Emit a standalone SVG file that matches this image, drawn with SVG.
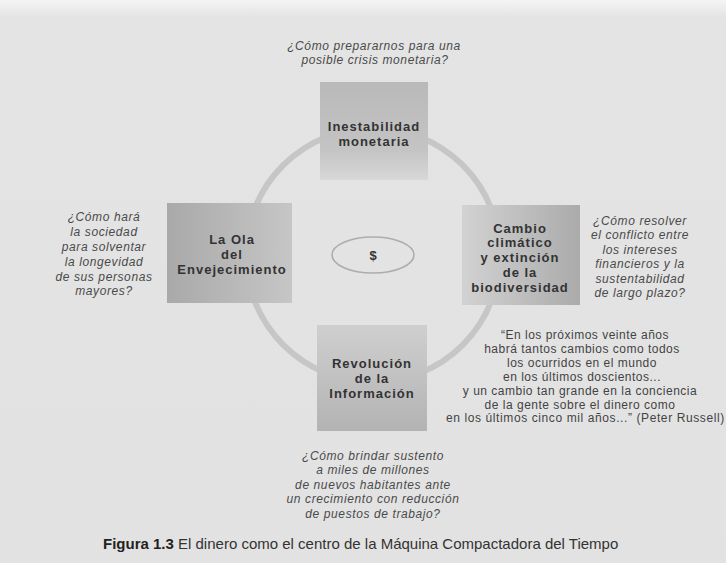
<svg xmlns="http://www.w3.org/2000/svg" width="726" height="563" viewBox="0 0 726 563">
  <defs>
    <linearGradient id="gPage" x1="0" y1="0" x2="0" y2="1">
      <stop offset="0" stop-color="#f4f4f4"/>
      <stop offset="0.03" stop-color="#e4e4e4"/>
      <stop offset="1" stop-color="#e2e2e2"/>
    </linearGradient>
    <linearGradient id="gTop" x1="0" y1="0" x2="0" y2="1">
      <stop offset="0" stop-color="#b9b9b9"/>
      <stop offset="0.7" stop-color="#c4c4c4"/>
      <stop offset="1" stop-color="#d8d8d8"/>
    </linearGradient>
    <linearGradient id="gLeft" x1="0" y1="0" x2="1" y2="0">
      <stop offset="0" stop-color="#a9a9a9"/>
      <stop offset="1" stop-color="#c6c6c6"/>
    </linearGradient>
    <linearGradient id="gRight" x1="0" y1="0" x2="1" y2="0">
      <stop offset="0" stop-color="#d2d2d2"/>
      <stop offset="1" stop-color="#ababab"/>
    </linearGradient>
    <linearGradient id="gBottom" x1="0" y1="0" x2="0" y2="1">
      <stop offset="0" stop-color="#cfcfcf"/>
      <stop offset="1" stop-color="#b3b3b3"/>
    </linearGradient>
    <style>
      .title { font-family: "Liberation Sans", Arial, sans-serif; font-weight: bold; font-size: 13px; letter-spacing: 1px; fill: #333333; text-anchor: middle; }
      .q { font-family: "Liberation Sans", Arial, sans-serif; font-style: italic; font-size: 12px; letter-spacing: 0.6px; fill: #4a4a4a; text-anchor: middle; }
      .quote { font-family: "Liberation Sans", Arial, sans-serif; font-size: 12px; letter-spacing: 0.5px; fill: #434343; text-anchor: middle; }
      .cap { font-family: "Liberation Sans", Arial, sans-serif; font-size: 15px; fill: #333333; }
      .ring { fill: none; stroke: #c6c6c6; stroke-width: 6; }
    </style>
  </defs>

  <rect x="0" y="0" width="726" height="563" fill="url(#gPage)"/>

  <g id="connectors">
    <circle class="ring" cx="373" cy="255" r="127"/>
  </g>

  <g id="node-top">
    <rect x="320" y="82" width="108" height="98" fill="url(#gTop)"/>
    <text class="title" x="374" y="130.5">Inestabilidad</text>
    <text class="title" x="374" y="145.5">monetaria</text>
  </g>

  <g id="node-left">
    <rect x="167" y="203" width="125" height="100" fill="url(#gLeft)"/>
    <text class="title" x="232" y="243.5">La Ola</text>
    <text class="title" x="232" y="258.5">del</text>
    <text class="title" x="232" y="273.5">Envejecimiento</text>
  </g>

  <g id="node-right">
    <rect x="462" y="205" width="118" height="100" fill="url(#gRight)"/>
    <text class="title" x="520" y="232.5">Cambio</text>
    <text class="title" x="520" y="247.4">climático</text>
    <text class="title" x="520" y="262.3">y extinción</text>
    <text class="title" x="520" y="277.2">de la</text>
    <text class="title" x="520" y="292.1">biodiversidad</text>
  </g>

  <g id="node-bottom">
    <rect x="317" y="325" width="110" height="106" fill="url(#gBottom)"/>
    <text class="title" x="372" y="367.5">Revolución</text>
    <text class="title" x="372" y="382.5">de la</text>
    <text class="title" x="372" y="397.5">Información</text>
  </g>

  <g id="node-center">
    <ellipse cx="373" cy="255" rx="41" ry="18" fill="none" stroke="#adadad" stroke-width="1.6"/>
    <text class="title" x="373" y="259.5" style="letter-spacing:0">$</text>
  </g>

  <g id="question-top">
    <text class="q" x="374" y="49.5">¿Cómo prepararnos para una</text>
    <text class="q" x="375" y="63.5">posible crisis monetaria?</text>
  </g>

  <g id="question-left">
    <text class="q" x="104" y="220.5">¿Cómo hará</text>
    <text class="q" x="104" y="235.5">la sociedad</text>
    <text class="q" x="104" y="250.5">para solventar</text>
    <text class="q" x="104" y="265.5">la longevidad</text>
    <text class="q" x="104" y="280.5">de sus personas</text>
    <text class="q" x="104" y="295">mayores?</text>
  </g>

  <g id="question-right">
    <text class="q" x="640" y="224.5">¿Cómo resolver</text>
    <text class="q" x="640" y="239">el conflicto entre</text>
    <text class="q" x="640" y="253.5">los intereses</text>
    <text class="q" x="640" y="268">financieros y la</text>
    <text class="q" x="640" y="282.5">sustentabilidad</text>
    <text class="q" x="640" y="297">de largo plazo?</text>
  </g>

  <g id="question-bottom">
    <text class="q" x="373" y="459.5">¿Cómo brindar sustento</text>
    <text class="q" x="373" y="474">a miles de millones</text>
    <text class="q" x="373" y="488.5">de nuevos habitantes ante</text>
    <text class="q" x="373" y="503">un crecimiento con reducción</text>
    <text class="q" x="373" y="517.5">de puestos de trabajo?</text>
  </g>

  <g id="quote">
    <text class="quote" x="585" y="339">“En los próximos veinte años</text>
    <text class="quote" x="582" y="352.9">habrá tantos cambios como todos</text>
    <text class="quote" x="582" y="366.8">los ocurridos en el mundo</text>
    <text class="quote" x="582" y="380.7">en los últimos doscientos...</text>
    <text class="quote" x="580" y="394.6">y un cambio tan grande en la conciencia</text>
    <text class="quote" x="580" y="408.5">de la gente sobre el dinero como</text>
    <text class="quote" x="446" y="422.4" style="text-anchor:start;letter-spacing:0.6px">en los últimos cinco mil años...” (Peter Russell)</text>
  </g>

  <g id="caption">
    <text class="cap" x="103" y="549"><tspan font-weight="bold" fill="#222222">Figura 1.3</tspan> El dinero como el centro de la Máquina Compactadora del Tiempo</text>
  </g>
</svg>
